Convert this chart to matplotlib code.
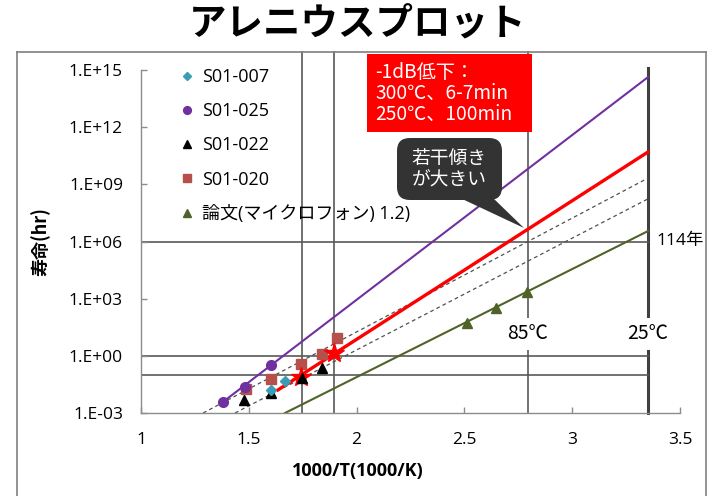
import matplotlib
matplotlib.use("Agg")
import matplotlib.pyplot as plt
from matplotlib.lines import Line2D
from matplotlib.patches import Rectangle, FancyBboxPatch, Polygon
import numpy as np

# ---------------- data ----------------
title = "アレニウスプロット"
xlabel = "1000/T(1000/K)"
ylabel = "寿命(hr)"
xticks = [1, 1.5, 2, 2.5, 3, 3.5]
xticklabels = ["1", "1.5", "2", "2.5", "3", "3.5"]
yticks = [1e-3, 1e0, 1e3, 1e6, 1e9, 1e12, 1e15]
yticklabels = ["1.E-03", "1.E+00", "1.E+03", "1.E+06", "1.E+09", "1.E+12", "1.E+15"]

# measured points
s007_x = [1.603, 1.668]
s007_y = [10**-1.79, 10**-1.32]
s025_x = [1.380, 1.482, 1.603]
s025_y = [10**-2.42, 10**-1.63, 10**-0.48]
s022_x = [1.478, 1.603, 1.747, 1.840]
s022_y = [10**-2.31, 10**-1.95, 10**-1.16, 10**-0.63]
s020_x = [1.486, 1.603, 1.742, 1.840, 1.910]
s020_y = [10**-1.74, 10**-1.21, 10**-0.42, 10**0.10, 10**0.94]
paper_x = [2.512, 2.647, 2.790]
paper_y = [10**1.73, 10**2.51, 10**3.35]
star_x = [1.742, 1.895]
star_y = [10**-1.11, 10**0.15]

# fitted lines
purple_line_x = [1.380, 3.352]
purple_line_y = [10**-2.42, 10**14.63]
red_line_x = [1.635, 3.352]
red_line_y = [10**-1.79, 10**10.70]
dash1_x = [1.288, 3.352]
dash1_y = [1e-3, 10**9.33]
dash2_x = [1.436, 3.352]
dash2_y = [1e-3, 10**8.24]
olive_line_x = [1.668, 3.352]
olive_line_y = [1e-3, 10**6.55]

# reference lines
ref_x = [1.745, 1.895, 2.795]   # 300C, 250C, 85C
x_25c = 3.352
ref_y = [1e6, 1e0, 1e-1]
temp_labels = ["85℃", "25℃"]
temp_label_x = [2.795, 3.352]
years_label = "114年"

legend_labels = ["S01-007", "S01-025", "S01-022", "S01-020", "論文(マイクロフォン) 1.2)"]
redbox_lines = ["-1dB低下：", "300℃、6-7min", "250℃、100min"]
callout_lines = ["若干傾き", "が大きい"]

# ---------------- colours ----------------
c_teal = "#3A9DB5"
c_purple = "#7030A0"
c_square = "#B5504B"
c_olive = "#4F6228"
c_red = "#FF0000"
c_ref = "#595959"
c_axis = "#8C8C8C"

W, H = 712, 496
def fx(px):
    return px / W
def fy(py):
    return 1 - py / H

LAT = ["Open Sans", "Noto Sans CJK JP", "DejaVu Sans"]
JP = ["Noto Sans CJK JP", "DejaVu Sans"]

fig = plt.figure(figsize=(7.12, 4.96), dpi=100)
fig.patch.set_facecolor("white")

ax_l, ax_r, ax_t, ax_b = 141, 680, 70, 413
ax = fig.add_axes([fx(ax_l), fy(ax_b), (ax_r - ax_l) / W, (ax_b - ax_t) / H])
ax.set_xlim(1, 3.5)
ax.set_yscale("log")
ax.set_ylim(1e-3, 1e15)
ax.set_facecolor("none")

for s in ["top", "right"]:
    ax.spines[s].set_visible(False)
for s in ["left", "bottom"]:
    ax.spines[s].set_color(c_axis)
    ax.spines[s].set_linewidth(1.0)

ax.set_xticks(xticks)
ax.set_xticklabels(xticklabels, fontfamily=LAT, fontsize=12.5)
ax.set_yticks(yticks)
ax.set_yticklabels(yticklabels, fontfamily=LAT, fontsize=12.5)
ax.minorticks_off()
ax.yaxis.set_minor_locator(matplotlib.ticker.NullLocator())
ax.tick_params(axis="both", direction="in", length=4.5, width=1.0, color=c_axis, labelcolor="black")
ax.tick_params(axis="x", pad=14)
ax.tick_params(axis="y", pad=13)

ax.set_xlabel(xlabel, fontfamily=LAT, fontsize=13, fontweight="bold")
ax.set_ylabel(ylabel, fontfamily=JP, fontsize=13, fontweight="bold")
ax.xaxis.set_label_coords(0.402, -0.143)
ax.yaxis.set_label_coords(-0.168, 0.5)

# reference lines
xt = ax.get_xaxis_transform()
top_ext = (ax_b - 52) / (ax_b - ax_t)
for x in ref_x:
    ax.plot([x, x], [0, top_ext], transform=xt, color=c_ref, lw=1.2, clip_on=False, zorder=1)
ax.plot([x_25c, x_25c], [0, (ax_b - 68) / (ax_b - ax_t)], transform=xt, color="#404040", lw=2.2,
        clip_on=False, zorder=1)
for y in ref_y:
    ax.plot([1, x_25c], [y, y], color=c_ref, lw=1.2, zorder=1)

# fitted lines
ax.plot(dash1_x, dash1_y, color="#505050", lw=0.9, ls=(0, (3, 2.5)), zorder=2)
ax.plot(dash2_x, dash2_y, color="#505050", lw=0.9, ls=(0, (3, 2.5)), zorder=2)
ax.plot(olive_line_x, olive_line_y, color=c_olive, lw=1.5, zorder=2)
ax.plot(purple_line_x, purple_line_y, color=c_purple, lw=1.5, zorder=2)
ax.plot(red_line_x, red_line_y, color=c_red, lw=2.4, zorder=3)

# markers
h_sq, = ax.plot(s020_x, s020_y, ls="none", marker="s", ms=6.8, color=c_square, zorder=4)
h_pu, = ax.plot(s025_x, s025_y, ls="none", marker="o", ms=7, color=c_purple, zorder=4)
h_st, = ax.plot(star_x, star_y, ls="none", marker="*", ms=15, color=c_red, zorder=5)
h_tr, = ax.plot(s022_x, s022_y, ls="none", marker="^", ms=7, color="black", zorder=6)
h_di, = ax.plot(s007_x, s007_y, ls="none", marker="D", ms=5.5, color=c_teal, zorder=6)
h_ol, = ax.plot(paper_x, paper_y, ls="none", marker="^", ms=7, color=c_olive, zorder=4)

# temperature labels with white background
for lab, x in zip(temp_labels, temp_label_x):
    ax.text(x, 10**1.15, lab, ha="center", va="center", fontfamily=JP, fontsize=14,
            bbox=dict(boxstyle="square,pad=0.3", fc="white", ec="none"), zorder=3)
ax.text(3.39, 1e6, years_label, ha="left", va="center", fontfamily=LAT, fontsize=12.5,
        clip_on=False, zorder=3)

# legend
leg = ax.legend([h_di, h_pu, h_tr, h_sq, h_ol], legend_labels, loc="upper left",
                bbox_to_anchor=(fx(178), fy(68)), bbox_transform=fig.transFigure,
                frameon=False, prop=dict(family=LAT, size=13), numpoints=1,
                handlelength=1.0, handletextpad=0.35, labelspacing=0.9,
                borderpad=0, borderaxespad=0, markerscale=0.8)

# outer frame
frame_c = "#7F7F7F"
fig.add_artist(Line2D([fx(17), fx(706)], [fy(52), fy(52)], color=frame_c, lw=1.2))
fig.add_artist(Line2D([fx(17), fx(17)], [fy(52), fy(495.5)], color=frame_c, lw=1.2))
fig.add_artist(Line2D([fx(706), fx(706)], [fy(52), fy(495.5)], color=frame_c, lw=1.2))

# title
fig.text(fx(358), fy(23), title, ha="center", va="center", fontfamily=JP, fontsize=27,
         fontweight="bold")

# red box
fig.add_artist(Rectangle((fx(367), fy(132)), (532 - 367) / W, (132 - 54) / H,
                         transform=fig.transFigure, fc="#FF0000", ec="none", zorder=5))
for i, line in enumerate(redbox_lines):
    fig.text(fx(375), fy(72 + 21 * i), line, ha="left", va="center", color="white",
             fontfamily=JP, fontsize=13.8, zorder=6)

# callout
fig.add_artist(Polygon([[fx(458), fy(197)], [fx(492), fy(197)], [fx(524), fy(228)]],
                       closed=True, transform=fig.transFigure, fc="#333333", ec="none", zorder=5))
fig.add_artist(FancyBboxPatch((fx(397), fy(200)), (502 - 397) / W, (200 - 138) / H,
                              boxstyle="round,pad=0,rounding_size=0.018",
                              transform=fig.transFigure, fc="#333333", ec="none", zorder=5,
                              mutation_aspect=W / H))
for i, line in enumerate(callout_lines):
    fig.text(fx(449), fy(158 + 22 * i), line, ha="center", va="center", color="white",
             fontfamily=JP, fontsize=13.5, zorder=6)

fig.savefig("out.png", dpi=100, facecolor="white")
